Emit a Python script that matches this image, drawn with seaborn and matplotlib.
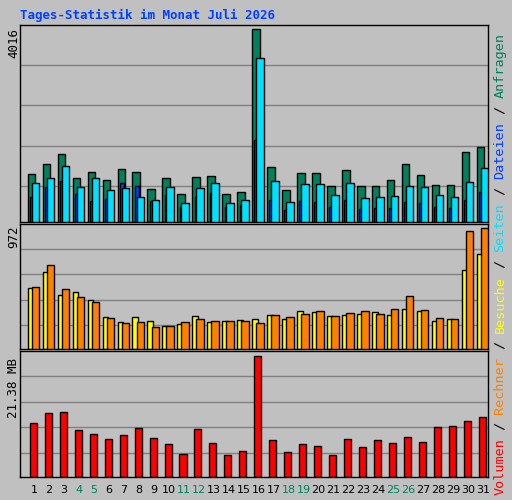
import numpy as np
import matplotlib
matplotlib.use("Agg")
import matplotlib.pyplot as plt
import matplotlib.transforms as mtrans
import seaborn as sns

days = list(range(1, 32))
weekend = [4, 5, 11, 12, 18, 19, 25, 26]

hits = [1004, 1213, 1422, 920, 1046, 879, 1109, 1046, 690, 920, 586, 941, 962, 586, 628, 4016,
        1151, 669, 1025, 1025, 753, 1088, 753, 753, 879, 1213, 983, 774, 774, 1464, 1569]
files = [523, 732, 858, 586, 439, 481, 816, 753, 439, 565, 314, 523, 607, 314, 356, 1715,
         460, 251, 439, 418, 314, 460, 272, 293, 293, 418, 397, 314, 293, 460, 628]
pages = [816, 920, 1171, 732, 920, 669, 711, 523, 460, 732, 397, 711, 816, 397, 460, 3410,
         858, 418, 795, 795, 565, 816, 502, 523, 544, 753, 732, 565, 523, 837, 1130]
visits = [486, 616, 437, 454, 397, 259, 219, 259, 227, 186, 203, 267, 219, 227, 235, 243,
          275, 243, 308, 300, 267, 275, 284, 300, 275, 324, 308, 227, 243, 632, 761]
hosts = [494, 672, 478, 421, 381, 251, 211, 219, 178, 186, 219, 243, 227, 227, 227, 211,
         275, 259, 284, 308, 267, 292, 308, 284, 324, 429, 316, 251, 243, 948, 972]
volume_mb = [9.52, 11.32, 11.50, 8.27, 7.55, 6.65, 7.37, 8.63, 6.83, 5.75, 4.13, 8.45, 5.93, 3.95,
             4.67, 21.38, 6.47, 4.49, 5.75, 5.57, 3.95, 6.65, 5.39, 6.47, 5.93, 7.01, 6.11, 8.81,
             8.99, 9.88, 10.60]

legend_parts = [("Volumen", "#ff0000"), (" / ", "black"), ("Rechner", "#ff8000"), (" / ", "black"),
                ("Besuche", "#ffff00"), (" / ", "black"), ("Seiten", "#00e0ff"), (" / ", "black"),
                ("Dateien", "#0040ff"), (" / ", "black"), ("Anfragen", "#00805c")]

GREEN, BLUE, CYAN = "#00805c", "#0040ff", "#00e0ff"
YELLOW, ORANGE, RED = "#ffff00", "#ff8000", "#ff0000"
GRAY = "#c0c0c0"
MONO = "DejaVu Sans Mono"

sns.set_theme(style="white")
plt.rcParams["font.family"] = ["DejaVu Sans"]

fig = plt.figure(figsize=(5.12, 5.0), dpi=100, facecolor=GRAY)
W, H = 512, 500


def make_ax(top, bottom):
    ax = fig.add_axes([20 / W, 1 - bottom / H, 468 / W, (bottom - top) / H])
    ax.set_facecolor(GRAY)
    ax.set_xlim(0.065, 31.33)
    ax.set_xticks([])
    ax.set_yticks([])
    for s in ax.spines.values():
        s.set_color("black")
        s.set_linewidth(1)
    return ax


x = np.array(days, dtype=float)
edge = dict(edgecolor="black", linewidth=1, align="edge")

# top panel: hits / files / pages
ax1 = make_ax(25, 222)
ax1.set_ylim(0, 4100)
for g in [753, 1590, 2427, 3264]:
    ax1.axhline(g, color="#808080", lw=1, zorder=0)
ax1.bar(x - 0.42, hits, width=0.5, color=GREEN, zorder=2, **edge)
ax1.bar(x - 0.27, files, width=0.27, color=BLUE, zorder=3, **edge)
ax1.bar(x - 0.15, pages, width=0.5, color=CYAN, zorder=4, **edge)

# middle panel: visits / hosts
ax2 = make_ax(224, 349)
ax2.set_ylim(0, 1004)
for g in [194, 397, 600, 802]:
    ax2.axhline(g, color="#808080", lw=1, zorder=0)
ax2.bar(x - 0.42, visits, width=0.38, color=YELLOW, zorder=2, **edge)
ax2.bar(x - 0.15, hosts, width=0.5, color=ORANGE, zorder=3, **edge)

# bottom panel: volume
ax3 = make_ax(351, 477)
ax3.set_ylim(0, 22.28)
for g in [4.31, 8.81, 13.30, 17.79]:
    ax3.axhline(g, color="#808080", lw=1, zorder=0)
ax3.bar(x - 0.28, volume_mb, width=0.47, color=RED, zorder=2, **edge)

# day labels
tr = mtrans.blended_transform_factory(ax3.transData, fig.transFigure)
for d in days:
    ax3.text(d, 1 - 490 / H, str(d), transform=tr, ha="center", va="center", fontsize=8,
             color=GREEN if d in weekend else "black", clip_on=False)

# y-axis max labels
for txt, ytop in [(f"{max(hits)}", 28), (f"{max(hosts)}", 226), (f"{max(volume_mb):.2f} MB", 358)]:
    fig.text(14 / W, 1 - ytop / H, txt, rotation=90, rotation_mode="anchor", ha="right",
             va="center", fontsize=9, family=MONO, color="black")

# title
fig.text(20 / W, 1 - 15 / H, "Tages-Statistik im Monat Juli 2026", fontsize=9, fontweight="bold",
         family=MONO, color=BLUE, ha="left", va="center")

# right side legend, reading upward
char_px = 8.1
pos = 0
for part, col in legend_parts:
    fig.text(500 / W, 1 - (495 - pos * char_px) / H, part, rotation=90, rotation_mode="anchor",
             ha="left", va="center", fontsize=9.7, family=MONO, color=col)
    pos += len(part)

fig.savefig("out.png", dpi=100, facecolor=GRAY)
